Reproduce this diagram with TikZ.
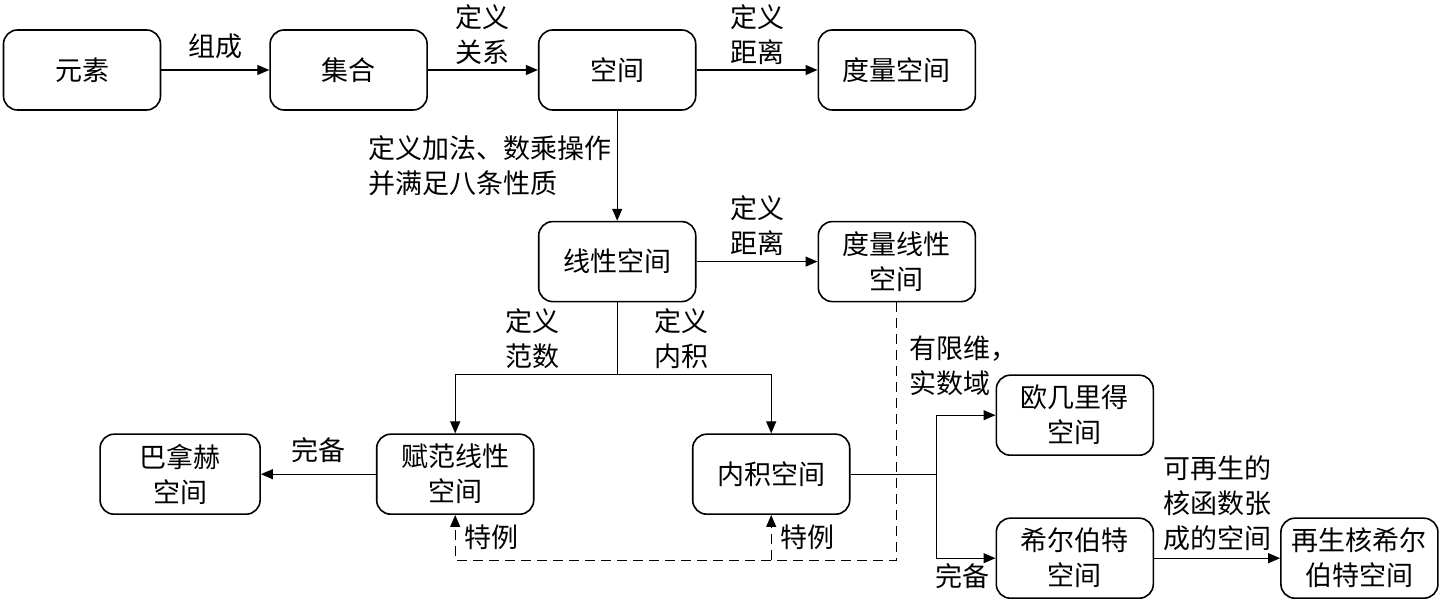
\documentclass[tikz,border=0pt]{standalone}
\usepackage{fontspec}
\setmainfont{Noto Sans CJK SC}
\usepackage{tikz}
\usetikzlibrary{positioning, arrows.meta, calc}
\tikzstyle{box}=[%
      rectangle, rounded corners=7pt, draw=black, line width=0.8pt, fill=none,
      minimum height=40pt, minimum width=78.5pt, inner sep=3pt, align=center
]
\tikzstyle{lbl}=[%
      align=left, inner sep=2.5pt
]
\tikzstyle{dasharr}=[%
      ->, dashed, dash pattern=on 5pt off 3pt
]

\begin{document}
\begin{tikzpicture}[
    line width=0.6pt,
    font=\fontsize{13.5}{17.5}\selectfont,
    >={Triangle[length=6pt,width=5pt]}
  ]
    \useasboundingbox (0,0) rectangle (720pt,-301.5pt);
    \node[box] (yuansu) at (41pt,-35pt) {元素};
    \node[box] (jihe) [right=54pt of yuansu] {集合};
    \node[box] (kongjian) [right=55pt of jihe] {空间};
    \node[box] (duliang) [right=60.5pt of kongjian] {度量空间};
    \node[box] (xianxing) [below=55pt of kongjian] {线性空间};
    \node[box] (duliangxx) [right=60.5pt of xianxing] {度量线性\\空间};
    \node[box] (fanshu) [below=65.5pt of xianxing, xshift=-81pt] {赋范线性\\空间};
    \node[box] (neiji) [below=65.5pt of xianxing, xshift=77pt] {内积空间};
    \node[box, minimum width=80pt] (banahe) [left=57.5pt of fanshu] {巴拿赫\\空间};
    \node[box] (oujilide) [right=72.5pt of neiji, yshift=29.5pt] {欧几里得\\空间};
    \node[box] (xierbote) [right=72.5pt of neiji, yshift=-42pt] {希尔伯特\\空间};
    \node[box] (zaisheng) [right=63pt of xierbote] {再生核希尔\\伯特空间};

    \draw[->] (yuansu) -- node[lbl, above=3pt] {组成} (jihe);
    \draw[->] (jihe) -- node[lbl, above] {定义\\关系} (kongjian);
    \draw[->] (kongjian) -- node[lbl, above] {定义\\距离} (duliang);
    \draw[->] (kongjian) -- node[lbl, left] {定义加法、数乘操作\\并满足八条性质} (xianxing);
    \draw[->] (xianxing) -- node[lbl, above] {定义\\距离} (duliangxx);

    % split to normed and inner product spaces
    \draw (xianxing.south) -- ++(0,-36pt) coordinate (fork);
    \draw[->] (fork) -| node[lbl, pos=0.26, above] {定义\\范数} (fanshu.north);
    \draw[->] (fork) -| node[lbl, pos=0.21, above] {定义\\内积} (neiji.north);
    \draw[->] (fanshu) -- node[lbl, above=3pt] {完备} (banahe);

    \draw (neiji.east) -- ++(43pt,0) coordinate (fork2);
    \draw[->] (fork2) |- node[lbl, pos=0.5, anchor=south west, xshift=-16.5pt, yshift=7pt] {有限维，\\实数域} (oujilide.west);
    \draw[->] (fork2) |- node[lbl, pos=1, below left] {完备} (xierbote.west);
    \draw[->] (xierbote) -- node[lbl, above=1pt] {可再生的\\核函数张\\成的空间} (zaisheng);

    % special cases
    \draw[dasharr] (duliangxx.south) -- ++(0,-129pt) coordinate (dcorner)
          -| node[lbl, pos=0.75, right=2pt] {特例} (fanshu.south);
    \draw[dasharr] (neiji.south |- dcorner) -- node[lbl, right=2pt] {特例} (neiji.south);
  \end{tikzpicture}
\end{document}
